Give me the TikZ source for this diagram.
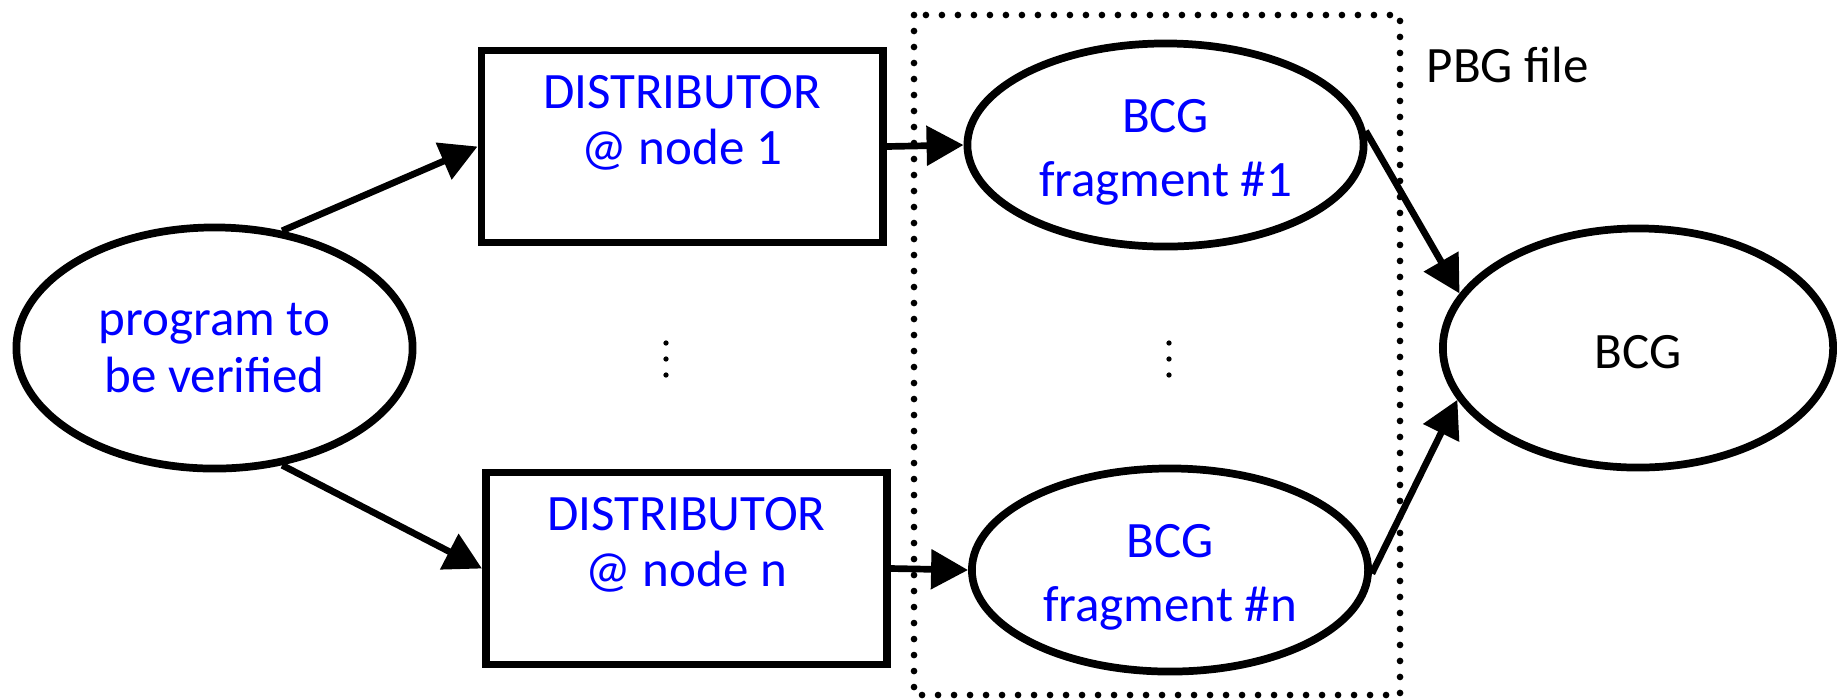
\documentclass[tikz,border=0pt]{standalone}
\usepackage{fontspec}
\setmainfont{Carlito}
\usetikzlibrary{shapes.geometric,arrows.meta}
\tikzset{
    outline/.style={draw, line width=2.2pt, inner sep=0pt, align=center,
      font=\fontsize{14.5}{16}\selectfont},
    progshape/.style={outline, ellipse, minimum width=3.96cm, minimum height=2.41cm, text=blue},
    distbox/.style={outline, rectangle, minimum width=4.01cm, minimum height=1.92cm},
    distlabel/.style={text=blue, align=center, inner sep=0pt, yshift=0.24cm,
      font=\fontsize{14.5}{16}\selectfont},
    fragshape/.style={outline, ellipse, minimum width=3.96cm, minimum height=2.03cm, text=blue,
      text height=32pt, text depth=3pt, font=\fontsize{14.5}{18.2}\selectfont},
    resultshape/.style={outline, ellipse, minimum width=3.90cm, minimum height=2.39cm,
      text height=11.4pt, text depth=0pt},
    flow/.style={line width=1.9pt, -{Triangle[length=10.5pt,width=11pt]}},
    pbgframe/.style={line width=1.9pt, line cap=round, dash pattern=on 0pt off 4.55pt},
    vdot/.style={fill=black},
  }
\begin{document}
\begin{tikzpicture}[x=0.01cm,y=-0.01cm]
                  %units: 1 = 0.01cm, y downwards
                  \useasboundingbox (0,0) rectangle (1837,699);
                  %PBG file frame
                  \draw [pbgframe] (914,15) rectangle (1400,695);
                  \node [anchor=base west, inner sep=0pt, font=\fontsize{14.5}{16}\selectfont] (pbg) at (1426,82) {PBG file};
                  \node [progshape] (prog) at (214.5,348) {program to\\be verified};
                  \node [distbox, label={[distlabel]center:DISTRIBUTOR\\@ node 1}] (dist1) at (682,146.5) {};
                  \node [distbox, label={[distlabel]center:DISTRIBUTOR\\@ node n}] (distn) at (686.5,568.5) {};
                  \node [fragshape] (frag1) at (1165.5,145) {BCG\\fragment \#1};
                  \node [fragshape] (fragn) at (1170,570) {BCG\\fragment \#n};
                  \node [resultshape] (bcg) at (1638,348) {BCG};
                  %vertical dots
                  \foreach \x in {666,1169}
                    \foreach \y in {343,359,375}
                      \fill [vdot] (\x,\y) circle (0.75pt);
                  \draw [flow] (prog.60) -- (dist1.west);
                  \draw [flow] (prog.-60) -- (distn.west);
                  \draw [flow] (dist1.east) -- (frag1.west);
                  \draw [flow] (distn.east) -- (fragn.west);
                  \draw [flow] (frag1.4) -- (bcg.163);
                  \draw [flow] (fragn.-1) -- (bcg.196);
\end{tikzpicture}
\end{document}
